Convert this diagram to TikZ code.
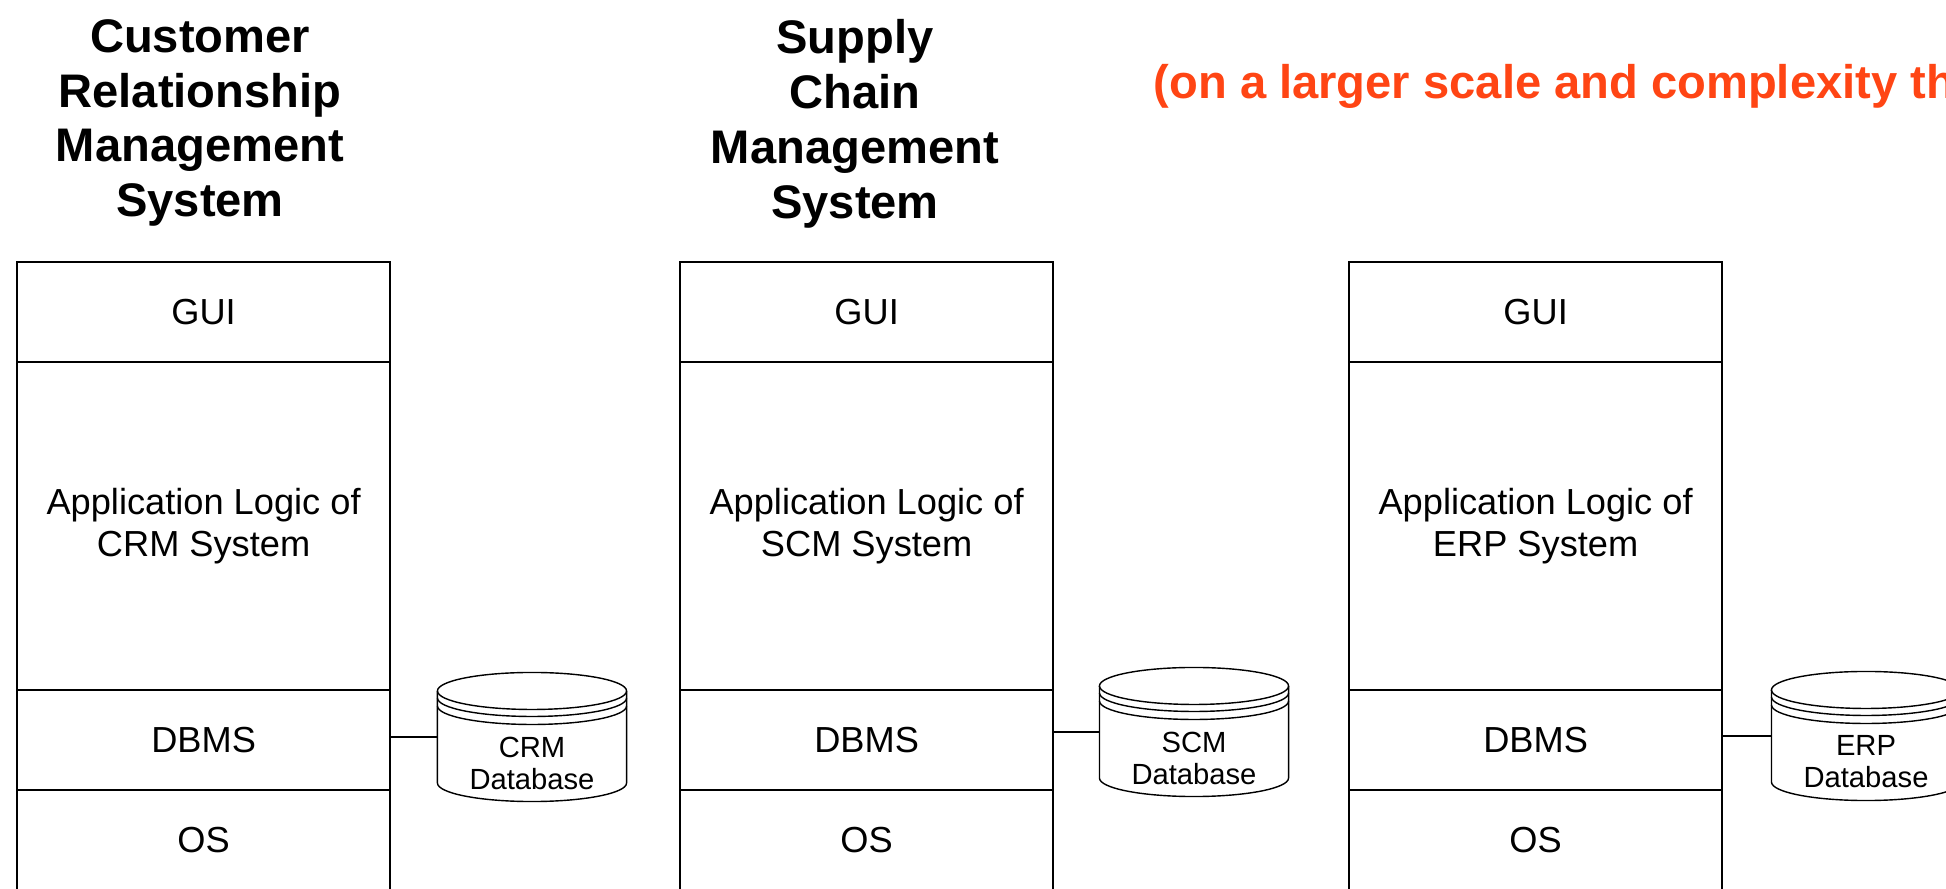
\documentclass[tikz,border=0pt]{standalone}
\usepackage{fontspec}
\setmainfont{Liberation Sans}
\usetikzlibrary{calc,positioning}

\definecolor{scaleorange}{RGB}{255,69,20}

\tikzset{
	layer/.style={draw, line width=0.6pt, minimum width=3.73cm, inner sep=0pt, outer sep=0pt,
		align=center, font=\fontsize{10.3}{12}\selectfont},
	dbbody/.style={minimum width=1.89cm, minimum height=0.92cm, inner sep=0pt, outer sep=0pt},
	dbline/.style={line width=0.4pt},
	dbtext/.style={align=center, inner sep=0pt, font=\fontsize{8.3}{9.1}\selectfont},
	systitle/.style={align=center, inner sep=0pt, font=\fontsize{13.4}{15.6}\selectfont\bfseries},
	link/.style={line width=0.6pt}
}

% database disk: name, centre of its body, label
\newcommand{\dbdisk}[3]{
	\node[dbbody] (#1) at (#2) {};
	\draw[dbline, fill=white] (#1.north west) -- (#1.south west)
		arc[start angle=180, end angle=360, x radius=0.945cm, y radius=0.185cm]
		-- (#1.north east)
		arc[start angle=0, end angle=180, x radius=0.945cm, y radius=0.185cm] -- cycle;
	\draw[dbline] (#1.north west) arc[start angle=180, end angle=360, x radius=0.945cm, y radius=0.185cm];
	\draw[dbline] ([yshift=-0.07cm]#1.north west) arc[start angle=180, end angle=360, x radius=0.945cm, y radius=0.185cm];
	\draw[dbline] ([yshift=-0.15cm]#1.north west) arc[start angle=180, end angle=360, x radius=0.945cm, y radius=0.185cm];
	\node[dbtext] (#1text) at ([yshift=-0.26cm]#1.center) {#3};
}

\begin{document}
\begin{tikzpicture}[x=0.01cm, y=0.01cm]

	% page frame, the picture is cut at the bottom and on the right
	\useasboundingbox (0,0) rectangle (1946,888);
	\clip (0,0) rectangle (1946,888);

	% titles
	\node[systitle] (crmtitle) at (200,765) {Customer\\Relationship\\Management\\System};
	\node[systitle] (scmtitle) at (855,764) {Supply\\Chain\\Management\\System};
	\node[systitle, anchor=base west, text=scaleorange] (scalenote) at (1153,789)
		{(on a larger scale and complexity th};

	% CRM stack
	\node[layer, minimum height=1.00cm, anchor=north west] (crmgui) at (17,626) {GUI};
	\node[layer, minimum height=3.28cm, below=0pt of crmgui] (crmlogic) {Application Logic of\hspace{0.28em}\\CRM System};
	\node[layer, minimum height=1.00cm, below=0pt of crmlogic] (crmdbms) {DBMS};
	\node[layer, minimum height=1.00cm, below=0pt of crmdbms] (crmos) {OS};

	% SCM stack
	\node[layer, minimum height=1.00cm, anchor=north west] (scmgui) at (680,626) {GUI};
	\node[layer, minimum height=3.28cm, below=0pt of scmgui] (scmlogic) {Application Logic of\hspace{0.28em}\\SCM System};
	\node[layer, minimum height=1.00cm, below=0pt of scmlogic] (scmdbms) {DBMS};
	\node[layer, minimum height=1.00cm, below=0pt of scmdbms] (scmos) {OS};

	% ERP stack
	\node[layer, minimum height=1.00cm, anchor=north west] (erpgui) at (1349,626) {GUI};
	\node[layer, minimum height=3.28cm, below=0pt of erpgui] (erplogic) {Application Logic of\hspace{0.28em}\\ERP System};
	\node[layer, minimum height=1.00cm, below=0pt of erplogic] (erpdbms) {DBMS};
	\node[layer, minimum height=1.00cm, below=0pt of erpdbms] (erpos) {OS};

	% databases
	\dbdisk{crmdb}{532,151}{CRM\\Database}
	\dbdisk{scmdb}{1194,156}{SCM\\Database}
	\dbdisk{erpdb}{1866,152}{ERP\\Database}

	% links from the DBMS layers
	\draw[link] (crmdb.west -| crmdbms.east) -- (crmdb.west);
	\draw[link] (scmdb.west -| scmdbms.east) -- (scmdb.west);
	\draw[link] (erpdb.west -| erpdbms.east) -- (erpdb.west);

\end{tikzpicture}
\end{document}
